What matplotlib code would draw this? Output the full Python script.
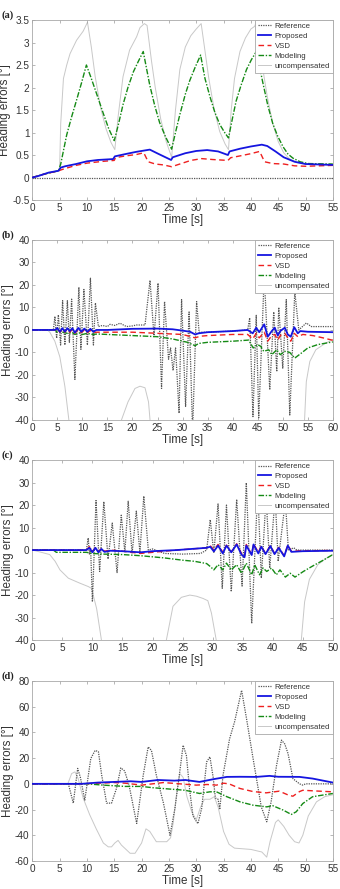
import numpy as np
import matplotlib
matplotlib.use("Agg")
import matplotlib.pyplot as plt
from matplotlib.ticker import FuncFormatter

nan = np.nan

# ---- (a) values: (time [s], heading error [deg]) ----
A_REF = [(0, 0), (55, 0)]
A_PROP = [(0, 0), (1, 0.03), (2, 0.07), (3, 0.11), (4.8, 0.15), (5.2, 0.22), (6, 0.25), (8, 0.3),
          (10, 0.36), (12, 0.39), (14.8, 0.41), (15.1, 0.47), (17, 0.52), (19, 0.57), (21.5, 0.62),
          (23, 0.53), (25.4, 0.39), (25.7, 0.45), (28, 0.54), (30, 0.59), (32, 0.61), (34, 0.58),
          (35.8, 0.5), (36.1, 0.58), (38, 0.64), (40, 0.69), (42, 0.73), (43, 0.7), (44.5, 0.58),
          (46, 0.45), (48, 0.35), (50, 0.3), (55, 0.28)]
A_VSD = [(0, 0), (2, 0.07), (4.8, 0.15), (6, 0.2), (8, 0.27), (10, 0.32), (13, 0.36), (15, 0.38),
         (15.2, 0.44), (17, 0.48), (19, 0.51), (20.4, 0.55), (21.2, 0.35), (22.5, 0.3), (24, 0.28),
         (25.5, 0.24), (27, 0.3), (29, 0.38), (31, 0.42), (33, 0.4), (35.8, 0.38), (36.3, 0.44),
         (38, 0.48), (40, 0.53), (41.6, 0.58), (42.5, 0.35), (44, 0.31), (46, 0.3), (48, 0.26),
         (50, 0.25), (55, 0.27)]
A_MOD = [(0, 0), (2, 0.07), (4.8, 0.15), (5.2, 0.3), (6.3, 0.95), (7.2, 1.35), (8.1, 1.72), (9, 2.1),
         (9.9, 2.5), (10.8, 2.2), (11.8, 1.85), (13, 1.42), (14, 1.08), (15, 0.82), (15.8, 1.2),
         (16.6, 1.62), (17.5, 2.0), (18.5, 2.35), (19.4, 2.58), (20.3, 2.8), (21.5, 2.05), (22.4, 1.6),
         (23.3, 1.22), (24.4, 0.9), (25.5, 0.63), (26.2, 1.0), (27, 1.4), (28, 1.85), (28.8, 2.15),
         (29.8, 2.45), (30.8, 2.72), (31.6, 2.2), (32.5, 1.8), (33.4, 1.45), (34.3, 1.18), (35.2, 1.0),
         (35.9, 0.88), (36.6, 1.3), (37.3, 1.7), (38.2, 2.05), (39.2, 2.4), (40.1, 2.62), (41, 2.8),
         (42.2, 2.1), (43.1, 1.6), (44, 1.2), (44.9, 0.92), (45.9, 0.68), (46.8, 0.52), (47.7, 0.43),
         (49, 0.35), (50.5, 0.31), (55, 0.3)]
A_UNC = [(0, 0), (2, 0.07), (4.8, 0.15), (5.0, 0.2), (5.2, 1.2), (5.7, 2.2), (6.3, 2.5), (6.9, 2.75),
         (8.1, 3.05), (9.3, 3.25), (10.1, 3.45), (10.8, 2.9), (11.5, 2.25), (12.5, 1.55), (13.5, 1.08),
         (14.4, 0.78), (15.1, 0.62), (15.7, 1.35), (16.6, 2.24), (17.8, 2.83), (19.1, 3.13),
         (19.7, 3.33), (20.5, 3.42), (21, 3.38), (21.8, 2.6), (22.5, 2.0), (23.5, 1.3), (24.5, 0.8),
         (25.5, 0.45), (26.2, 1.5), (27, 2.4), (28, 2.9), (29, 3.15), (30, 3.3), (30.9, 3.42),
         (31.5, 2.9), (32.3, 2.2), (33.3, 1.5), (34.3, 1.02), (35.3, 0.74), (35.9, 0.62), (36.4, 1.5),
         (37, 2.2), (38, 2.8), (39, 3.1), (40, 3.3), (40.7, 3.36), (41.1, 3.5), (41.5, 3.0),
         (42.2, 2.4), (43, 1.8), (44, 1.2), (45, 0.8), (46, 0.55), (47, 0.42), (48.5, 0.33),
         (50, 0.3), (55, 0.28)]

# ---- (b) ----
B_REF = [(0, 0), (4.2, 0), (4.52, 6), (4.86, -3.7), (5.2, 6.7), (5.65, -6.7), (6.05, 13), (6.5, -6.7),
         (7.0, 13), (7.4, -5.5), (7.85, 13.7), (8.5, -22), (9.3, 19), (9.7, -8.6), (10.3, 18),
         (11.0, -6.7), (11.6, 23), (12.2, -6.7), (12.6, 12), (13.2, 1.5), (14, 2), (15, 1.5),
         (15.5, 2.5), (16.5, 2), (17.5, 3), (18.8, 1.5), (20, 1.8), (20.8, 2.2), (22.5, 2.2),
         (23.5, 22), (24.3, -3), (25.1, 20.8), (25.8, -26), (26.4, 12.6), (27.2, -13), (27.6, -8),
         (28.1, -18), (28.6, -8), (29.3, -37), (29.8, 13.5), (30.6, -34), (31.3, 8), (32.0, -45),
         (32.8, 12.6), (33.3, -1), (35, -1), (40, -0.5), (43, 0), (43.4, 5.4), (44.05, -38.5),
         (44.7, 6.5), (45.2, -39), (46.3, 24), (47.4, -26.6), (48.2, 8), (48.8, -18.5), (49.2, 10),
         (50.0, -17), (50.7, 13.5), (51.4, -37.8), (52.4, 17), (53.2, 0), (54.7, 3.1), (55.7, 1.5),
         (60, 1.5)]
B_PROP = [(0, 0), (4.5, 0), (5, 0.8), (5.5, -0.8), (6, 0.8), (6.5, -0.8), (7, 0.8), (7.5, -0.5), (8, 0.8),
          (8.5, -1.2), (9.2, 0.9), (9.8, -0.8), (10.4, 0.6), (11, -0.8), (11.6, 0.5), (12.2, -0.8),
          (12.8, 0), (15, 0), (18, 0.3), (20, 0.5), (25, 0.6), (28, 0.3), (30, -0.3), (31.5, -0.8),
          (32.5, -2), (33.2, -1.5), (35, -1), (40, -0.5), (43, 0), (44, -1.5), (44.7, 1), (45.3, -1),
          (46.3, 2.5), (47, -3), (47.8, -0.5), (48.4, 1), (49, -2.5), (49.5, -0.5), (50.4, 1),
          (51, -2), (51.6, -3), (52.3, 1.2), (53, -1.5), (53.5, -0.5), (55, -0.8), (60, -1)]
B_VSD = [(0, 0), (4.5, 0), (5, 0.5), (5.5, -1), (6, 0.5), (6.5, -1), (7, 0.5), (7.5, -1), (8, 0.3),
         (8.5, -1.5), (9.2, 0.3), (9.8, -1.2), (10.4, 0), (11, -1.2), (11.6, -0.2), (12.2, -1.2),
         (12.8, -1), (15, -1), (20, -1), (25, -1.5), (30, -2), (32.5, -3.5), (33.5, -2.8), (35, -2.5),
         (40, -2), (43, -2), (44, -4), (44.7, -1.5), (45.3, -3.5), (46.3, -1), (47, -5), (47.8, -2.5),
         (48.4, -2), (49, -4.5), (49.5, -2.5), (50.4, -1.5), (51, -3.5), (51.6, -5), (52.3, -1.5),
         (53, -3), (54, -2), (56, -2.5), (58, -3.5), (60, -4.6)]
B_MOD = [(0, 0), (4.5, 0), (5, -1), (6, -1), (7, -1.5), (8, -1.2), (8.5, -2), (9.5, -1.3), (10, -2),
         (11, -1.5), (12, -2), (13, -1.8), (15, -2), (20, -2.5), (25, -3), (28, -4), (30, -5),
         (31, -5.5), (32.5, -7), (33.2, -6), (35, -5.5), (40, -5), (43.2, -4.5), (44.1, -8), (45, -6.5),
         (45.6, -7.3), (46.2, -9.5), (47.2, -8.8), (47.8, -11), (48.8, -8.8), (49.5, -11), (50.4, -9.5),
         (51.4, -10), (52.4, -12.5), (53.7, -10.3), (55, -8), (57, -6.5), (60, -5.3)]
B_UNC = [(0, 0), (3, 0), (3.5, -1), (4.5, -5), (5.5, -12), (6.5, -25), (7.3, -40), (7.5, -45), (nan, nan),
         (17.6, -45), (17.8, -40), (19.1, -32), (20.5, -26), (21.5, -25), (22.5, -25.7), (23.2, -32),
         (23.5, -40), (23.7, -45), (nan, nan), (54.2, -45), (54.35, -40), (54.7, -23), (55.4, -14),
         (56.6, -8.8), (58.6, -5.8), (60, -4.3)]

# ---- (c) ----
C_REF = [(0, 0), (9, 0), (9.3, 5.4), (9.5, -2), (9.7, 1), (10.0, -23), (10.6, 22), (11.2, -9.5),
         (11.9, 21.5), (12.6, -4), (13.3, 12), (14.1, -10), (14.8, 15.5), (15.4, -1), (15.95, 21.7),
         (16.6, -1.5), (17.3, 17.3), (17.9, -1), (18.55, 24), (19.3, 0), (20, 0.5), (21, -0.5),
         (22, -1.5), (25, -1.8), (28, -1.5), (29, 0), (29.6, 13.5), (30.2, -1.3), (30.9, 20.5),
         (31.6, -17), (32.3, 20), (33.1, -18.5), (34.0, 22.5), (34.9, -16), (35.6, 29.9), (36.5, -32.6),
         (37.5, 27), (38.1, -12.5), (38.9, 24), (39.5, -8), (40.4, 24), (40.9, -5), (42.1, 22),
         (42.6, 0), (43.5, 1), (44, 0), (50, 0)]
C_PROP = [(0, 0), (9, 0), (9.5, 1), (10, -1), (10.5, 1), (11, -1), (11.5, 0.5), (12, -0.8), (13, -0.3),
          (15, -0.5), (18, -1), (20, -0.5), (24, 0), (29, 1), (29.6, 1.5), (30.2, -0.6), (30.9, 2),
          (31.7, -1.5), (32.3, 2), (33.1, -1), (34, 2.5), (34.8, -2), (35.3, -3.2), (35.6, 2),
          (36.5, -2.2), (36.8, 2.5), (37.6, -1.5), (38.1, 1.5), (38.8, -1.8), (39.6, 1.8), (40.3, -1.8),
          (41, 1), (41.9, -2.8), (42.5, 2), (43.1, -0.8), (45, -0.5), (50, -0.3)]
C_VSD = [(0, 0), (9, 0), (9.5, 1.5), (10, -0.5), (10.5, 1), (11, -0.8), (11.5, 0.8), (12, -0.5), (13, 0),
         (15, -0.5), (18, -1.5), (20, -1), (24, 0), (29, 1), (29.6, 2), (30.2, 0), (30.9, 2.5),
         (31.7, -1), (32.3, 2.2), (33.1, -0.8), (34, 2.8), (34.8, -1.5), (35.3, -2.8), (35.6, 2.5),
         (36.5, -2), (36.8, 2.8), (37.6, -1), (38.1, 1.8), (38.8, -1.5), (39.6, 2), (40.3, -1.5),
         (41, 1.2), (41.9, -2.5), (42.5, 2.2), (43.1, -0.5), (45, -0.3), (50, -0.2)]
C_MOD = [(0, 0), (3.5, 0), (4, -1), (9, -1), (10, -1.5), (12, -1.8), (15, -2), (18, -2.5), (20, -3),
         (22, -3.5), (25, -4.5), (27, -5), (29, -6), (29.6, -7.3), (30.2, -8.8), (30.9, -6.5),
         (31.7, -8.8), (32.3, -5.8), (33.1, -8.8), (34, -6.5), (34.8, -10.3), (35.6, -5.8), (36.5, -11),
         (37, -6.5), (37.8, -11), (38.4, -8), (39, -9.5), (39.8, -8), (40.6, -11), (41.2, -8.8),
         (42.1, -12), (42.9, -10.3), (43.7, -12), (45.1, -9.5), (46.7, -7), (48.4, -4.5), (50, -2)]
C_UNC = [(0, 0), (1.5, -1), (2.9, -2), (3.8, -5), (4.6, -8.8), (6, -12.5), (7.9, -14.7), (9.3, -16.2),
         (9.85, -17), (10.7, -26), (11.5, -40), (11.7, -45), (nan, nan), (22.2, -45), (22.3, -40),
         (23.4, -25), (24.8, -21), (26.2, -20), (27.3, -20.5), (28.4, -21.5), (29.2, -22.5),
         (29.8, -28), (30.6, -40), (30.8, -45), (nan, nan), (44.7, -45), (44.75, -40), (45.3, -23),
         (46.1, -13), (47.5, -6.5), (48.9, -3.6), (50, -2)]

# ---- (d) ----
D_REF = [(0, 0), (6.6, 0), (7.5, -15), (8.3, 12), (8.8, 5), (9.6, -12.7), (10.7, 19.7), (11.5, 26),
         (12.1, 25), (12.7, 6.7), (13.6, -15), (14.5, -15), (15.4, -3.6), (16.2, 12.4), (16.9, 10),
         (17.7, -1), (19.1, -30.8), (20.3, 6.7), (21.2, 28.7), (21.8, 26), (22.7, 6.7), (24, -15),
         (25.2, -40), (26.1, -19), (26.9, 6.7), (27.6, 30), (28.2, 22), (28.8, -5), (29.4, -25),
         (30.3, -31), (31, -19), (31.9, 17), (32.5, 21), (33.1, 5), (33.5, -11), (34, -12), (34.3, -20),
         (34.9, 6.7), (36.1, 35), (37, 48), (38.3, 72.7), (39.2, 50.7), (40.4, 19.7), (41.9, -17.9),
         (42.9, -29.5), (43.7, -14), (44.7, 14.5), (45.6, 34), (46.2, 31), (46.8, 23.5), (47.7, 4),
         (48.9, 0), (49.5, -1), (50, 0), (55, 0)]
D_PROP = [(0, 0), (9, 0), (12, 1), (15, 1.5), (18, 2), (20, 1.5), (23, 3), (26, 2.5), (28, 3),
          (30.6, 1.5), (33.1, 3.6), (35.6, 5.4), (38, 5.5), (41, 5.4), (43.4, 6.2), (45, 5.5),
          (48.9, 5.4), (51.3, 4.1), (55, 1)]
D_VSD = [(0, 0), (9, 0), (12, 0.5), (15, 1), (17, 0.5), (20, -1), (24, 1), (27, 0), (30, -1), (32, -0.5),
         (33.7, -1), (35, 0.5), (36, 0), (38, -3.6), (40.4, -6), (42.8, -7), (45.2, -5.7), (47, -9),
         (47.7, -9.6), (48.9, -6), (49.5, -5), (52.6, -5.7), (55, -6.2)]
D_MOD = [(0, 0), (7, 0), (10, 0), (13, -1), (17, -2), (20, -2), (22, -3), (25, -4), (28, -5), (30.6, -7.5),
         (32.5, -6.2), (33.7, -6.2), (35.6, -10), (38, -14), (40.4, -16.6), (42.9, -17.9), (44, -17),
         (45.9, -20.4), (47.4, -23.8), (48.3, -21.7), (49.5, -15.3), (51.3, -10), (55, -7.5)]
D_UNC = [(0, 0), (6.5, 0), (7.2, 8), (7.8, 9.3), (8.4, 4), (9.3, -11), (10.5, -24), (11.7, -35), (13, -46),
         (13.9, -49), (14.5, -49), (15.1, -46), (15.7, -44), (16.3, -47.6), (17.9, -54), (18.8, -54),
         (20, -46), (20.8, -35), (21.5, -37), (22.7, -45), (24.6, -45), (25.3, -42), (25.8, -30),
         (26.4, -8), (27, 8), (27.6, 5), (28.3, -10), (29.2, -22), (30, -28), (30.8, -18), (31.5, -12),
         (32.5, -12), (33.3, -10), (34, -18), (35, -37), (36, -47), (37, -50), (40, -51), (42, -53),
         (42.9, -57), (43.5, -45), (44.5, -30), (45, -28), (46, -33), (47, -40), (48, -45), (48.8, -46),
         (49.5, -40), (50.5, -25), (52, -14), (53.5, -10), (55, -8.5)]

LABELS = ["Reference", "Proposed", "VSD", "Modeling", "uncompensated"]

PANELS = [
    dict(tag="(a)", series=[A_REF, A_PROP, A_VSD, A_MOD, A_UNC], xmax=55,
         ylim=(-0.5, 3.5), yticks=np.arange(-0.5, 3.51, 0.5)),
    dict(tag="(b)", series=[B_REF, B_PROP, B_VSD, B_MOD, B_UNC], xmax=60,
         ylim=(-40, 40), yticks=np.arange(-40, 41, 10)),
    dict(tag="(c)", series=[C_REF, C_PROP, C_VSD, C_MOD, C_UNC], xmax=50,
         ylim=(-40, 40), yticks=np.arange(-40, 41, 10)),
    dict(tag="(d)", series=[D_REF, D_PROP, D_VSD, D_MOD, D_UNC], xmax=55,
         ylim=(-60, 80), yticks=np.arange(-60, 81, 20)),
]

# line styles (MATLAB-ish)
STYLES = [
    dict(color="#555555", ls=(0, (1, 0.9)), lw=0.9, zorder=2),   # reference
    dict(color="#1515e0", ls="-", lw=1.3, zorder=5),              # proposed
    dict(color="#ee2020", ls=(0, (4, 2.5)), lw=1.0, zorder=4),    # VSD
    dict(color="#158a15", ls=(0, (4, 1.2, 1, 1.2)), lw=1.0, zorder=3),  # modeling
    dict(color="#c8c8c8", ls="-", lw=0.7, zorder=1),              # uncompensated
]

plt.rcParams["font.family"] = ["Liberation Sans", "DejaVu Sans"]
plt.rcParams["axes.unicode_minus"] = False

fig = plt.figure(figsize=(3.4, 8.89), dpi=100)
left, width, height = 0.095, 0.884, 0.2025
bottoms = [0.775, 0.5276, 0.280, 0.0315]

fmt = FuncFormatter(lambda v, p: f"{v:g}")

for p, bot in zip(PANELS, bottoms):
    ax = fig.add_axes([left, bot, width, height])
    for data, st, lab in zip(p["series"], STYLES, LABELS):
        arr = np.array(data, dtype=float)
        ax.plot(arr[:, 0], arr[:, 1], label=lab, **st)
    ax.set_xlim(0, p["xmax"])
    ax.set_ylim(*p["ylim"])
    ax.set_xticks(np.arange(0, p["xmax"] + 0.1, 5))
    ax.set_yticks(p["yticks"])
    ax.xaxis.set_major_formatter(fmt)
    ax.yaxis.set_major_formatter(fmt)
    ax.tick_params(direction="in", length=2.5, width=0.5, labelsize=7.2,
                   colors="#9a9a9a", labelcolor="#333333", top=True, right=True, pad=2)
    for s in ax.spines.values():
        s.set_color("#a8a8a8")
        s.set_linewidth(0.6)
    ax.set_xlabel("Time [s]", fontsize=8.4, color="#333333", labelpad=1)
    ax.set_ylabel("Heading errors [°]", fontsize=8.4, color="#333333", labelpad=1)
    leg = ax.legend(loc="upper right", fontsize=5.6, frameon=True, fancybox=False,
                    borderaxespad=0.0, handlelength=1.7, handletextpad=0.5,
                    labelspacing=0.32, borderpad=0.35, framealpha=1.0)
    leg.get_frame().set_edgecolor("#a8a8a8")
    leg.get_frame().set_linewidth(0.6)
    for t in leg.get_texts():
        t.set_color("#333333")
    fig.text(0.004, bot + height + 0.005, p["tag"], fontsize=7.5, fontweight="bold",
             family="Liberation Serif", va="center", ha="left", color="#222222")

fig.savefig("out.png", dpi=100)
